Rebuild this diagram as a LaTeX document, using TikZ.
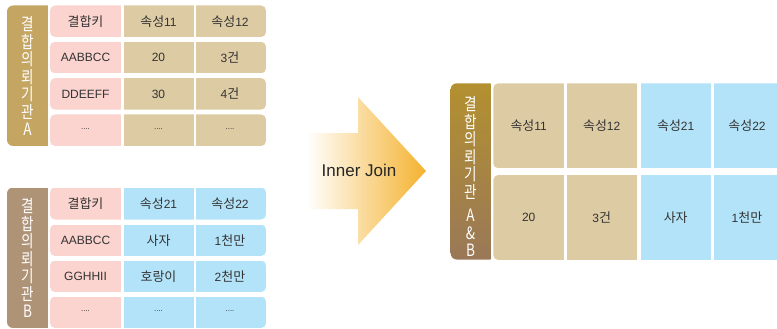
\documentclass[tikz,border=0pt]{standalone}
\usepackage{fontspec}
\setmainfont{Liberation Sans}
\newfontfamily\kr[Scale=1.08]{Noto Sans CJK KR}
\newfontfamily\krside[FakeStretch=0.8]{Noto Sans CJK KR}
\definecolor{keypink}{HTML}{FCD4CF}
\definecolor{attrtan}{HTML}{DDCBA4}
\definecolor{attrblue}{HTML}{B3E3F8}
\definecolor{sideA}{HTML}{C4A562}
\definecolor{sideB}{HTML}{AF9377}
\definecolor{sideRtop}{HTML}{B3902F}
\definecolor{sideRbot}{HTML}{9A7858}
\definecolor{joinorange}{HTML}{F4B22F}
\definecolor{celltext}{HTML}{333333}
\tikzstyle{cell}=[text=celltext, font=\fontsize{12}{14}\selectfont]
\tikzstyle{dots}=[text=celltext, font=\fontsize{8}{9}\selectfont]
\tikzstyle{side}=[text=white, align=center, font=\krside\fontsize{17}{17.5}\selectfont]

\begin{document}
\begin{tikzpicture}[x=1pt, y=-1pt]
\clip (0,0) rectangle (777,329);
% Side bars
    \begin{scope}
    \clip[rounded corners=6] (7,5.5) rectangle (60,146);
    \fill[sideA] (7,5.5) rectangle (47.5,146);
    \end{scope}
    \begin{scope}
    \clip[rounded corners=6] (7,187.5) rectangle (60,328);
    \fill[sideB] (7,187.5) rectangle (47.5,328);
    \end{scope}
    \begin{scope}
    \clip[rounded corners=6] (450.7,83.3) rectangle (500,259.5);
    \shade[top color=sideRtop, bottom color=sideRbot] (450.7,83.3) rectangle (490.5,259.5);
    \end{scope}
% Rows of table A
    \begin{scope}
    \clip[rounded corners=5] (50,5.5) rectangle (266,37);
    \fill[keypink] (50,5.5) rectangle (121,37);
    \fill[attrtan] (123.5,5.5) rectangle (193.5,37);
    \fill[attrtan] (196,5.5) rectangle (266,37);
    \end{scope}
    \begin{scope}
    \clip[rounded corners=5] (50,41.8) rectangle (266,73.4);
    \fill[keypink] (50,41.8) rectangle (121,73.4);
    \fill[attrtan] (123.5,41.8) rectangle (193.5,73.4);
    \fill[attrtan] (196,41.8) rectangle (266,73.4);
    \end{scope}
    \begin{scope}
    \clip[rounded corners=5] (50,78.1) rectangle (266,109.7);
    \fill[keypink] (50,78.1) rectangle (121,109.7);
    \fill[attrtan] (123.5,78.1) rectangle (193.5,109.7);
    \fill[attrtan] (196,78.1) rectangle (266,109.7);
    \end{scope}
    \begin{scope}
    \clip[rounded corners=5] (50,114.4) rectangle (266,146);
    \fill[keypink] (50,114.4) rectangle (121,146);
    \fill[attrtan] (123.5,114.4) rectangle (193.5,146);
    \fill[attrtan] (196,114.4) rectangle (266,146);
    \end{scope}
% Rows of table B
    \begin{scope}
    \clip[rounded corners=5] (50,187.5) rectangle (266,219.5);
    \fill[keypink] (50,187.5) rectangle (121,219.5);
    \fill[attrblue] (123.5,187.5) rectangle (193.5,219.5);
    \fill[attrblue] (196,187.5) rectangle (266,219.5);
    \end{scope}
    \begin{scope}
    \clip[rounded corners=5] (50,224.5) rectangle (266,256);
    \fill[keypink] (50,224.5) rectangle (121,256);
    \fill[attrblue] (123.5,224.5) rectangle (193.5,256);
    \fill[attrblue] (196,224.5) rectangle (266,256);
    \end{scope}
    \begin{scope}
    \clip[rounded corners=5] (50,260.5) rectangle (266,292);
    \fill[keypink] (50,260.5) rectangle (121,292);
    \fill[attrblue] (123.5,260.5) rectangle (193.5,292);
    \fill[attrblue] (196,260.5) rectangle (266,292);
    \end{scope}
    \begin{scope}
    \clip[rounded corners=5] (50,296.5) rectangle (266,328);
    \fill[keypink] (50,296.5) rectangle (121,328);
    \fill[attrblue] (123.5,296.5) rectangle (193.5,328);
    \fill[attrblue] (196,296.5) rectangle (266,328);
    \end{scope}
% Rows of the joined table
    \begin{scope}
    \clip[rounded corners=5] (493.3,83.3) rectangle (800,168.3);
    \fill[attrtan] (493.3,83.3) rectangle (564,168.3);
    \fill[attrtan] (566.7,83.3) rectangle (636.7,168.3);
    \fill[attrblue] (640.7,83.3) rectangle (710.7,168.3);
    \fill[attrblue] (714,83.3) rectangle (800,168.3);
    \end{scope}
    \begin{scope}
    \clip[rounded corners=5] (493.3,175) rectangle (800,260);
    \fill[attrtan] (493.3,175) rectangle (564,260);
    \fill[attrtan] (566.7,175) rectangle (636.7,260);
    \fill[attrblue] (640.7,175) rectangle (710.7,260);
    \fill[attrblue] (714,175) rectangle (800,260);
    \end{scope}
% Join arrow
    \shade[left color=white, right color=joinorange] (307,133) -- (358,133) -- (358,97) -- (426,171) -- (358,245) -- (358,209) -- (307,209) -- cycle;
    \node[font=\fontsize{17}{19}\selectfont, text=black!85] (join) at (359,170) {Inner Join};
% Side labels
    \node[side] (sa) at (27.5,76) {결\\합\\의\\뢰\\기\\관\\A};
    \node[side] (sb) at (27.5,258) {결\\합\\의\\뢰\\기\\관\\B};
    \node[side] (sr) at (470.5,176.5) {결\\합\\의\\뢰\\기\\관\\[6pt]A\\\&\\B};
% Table A texts
    \node[cell] (a11) at (85.5,21.3) {{\kr 결합키}};
    \node[cell] (a12) at (158.5,21.3) {{\kr 속성}11};
    \node[cell] (a13) at (230,21.3) {{\kr 속성}12};
    \node[cell] (a21) at (85.5,57.6) {AABBCC};
    \node[cell] (a22) at (158.5,57.6) {20};
    \node[cell] (a23) at (230,57.6) {3{\kr 건}};
    \node[cell] (a31) at (85.5,93.9) {DDEEFF};
    \node[cell] (a32) at (158.5,93.9) {30};
    \node[cell] (a33) at (230,93.9) {4{\kr 건}};
    \node[dots] (a41) at (85.5,129) {....};
    \node[dots] (a42) at (158.5,129) {....};
    \node[dots] (a43) at (230,129) {....};
% Table B texts
    \node[cell] (b11) at (85.5,203.5) {{\kr 결합키}};
    \node[cell] (b12) at (158.5,203.5) {{\kr 속성}21};
    \node[cell] (b13) at (230,203.5) {{\kr 속성}22};
    \node[cell] (b21) at (85.5,240.3) {AABBCC};
    \node[cell] (b22) at (158.5,240.3) {{\kr 사자}};
    \node[cell] (b23) at (230,240.3) {1{\kr 천만}};
    \node[cell] (b31) at (85.5,276.3) {GGHHII};
    \node[cell] (b32) at (158.5,276.3) {{\kr 호랑이}};
    \node[cell] (b33) at (230,276.3) {2{\kr 천만}};
    \node[dots] (b41) at (85.5,311) {....};
    \node[dots] (b42) at (158.5,311) {....};
    \node[dots] (b43) at (230,311) {....};
% Joined table texts
    \node[cell] (r11) at (528.7,125.8) {{\kr 속성}11};
    \node[cell] (r12) at (601.7,125.8) {{\kr 속성}12};
    \node[cell] (r13) at (675.7,125.8) {{\kr 속성}21};
    \node[cell] (r14) at (747,125.8) {{\kr 속성}22};
    \node[cell] (r21) at (528.7,217.5) {20};
    \node[cell] (r22) at (601.7,217.5) {3{\kr 건}};
    \node[cell] (r23) at (675.7,217.5) {{\kr 사자}};
    \node[cell] (r24) at (747,217.5) {1{\kr 천만}};
\end{tikzpicture}
\end{document}
